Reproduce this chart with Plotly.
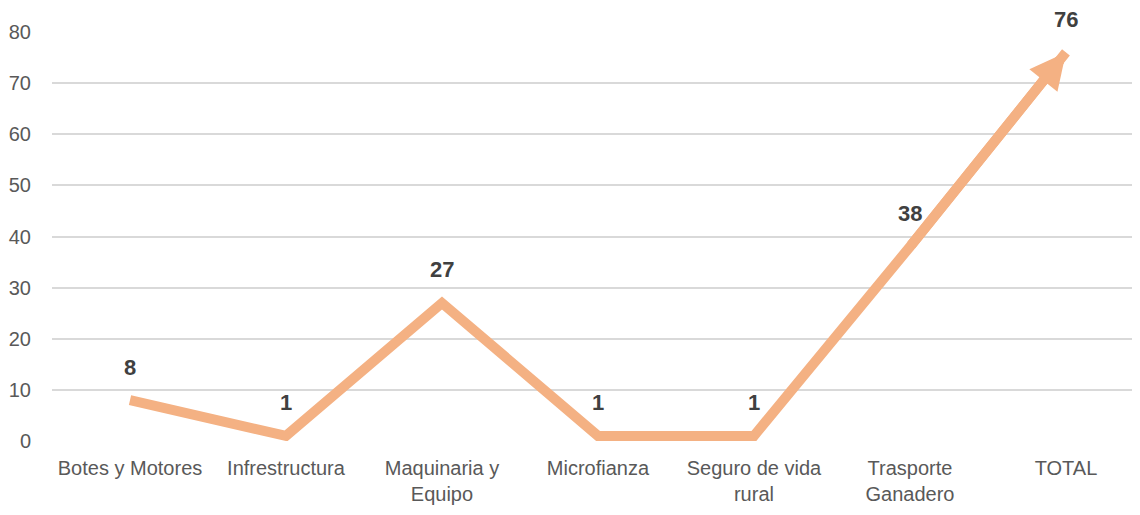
import plotly.graph_objects as go

categories = ["Botes y Motores", "Infrestructura", "Maquinaria y<br>Equipo", "Microfianza",
              "Seguro de vida<br>rural", "Trasporte<br>Ganadero", "TOTAL"]
values = [8, 1, 27, 1, 1, 38, 76]
y_ticks = [0, 10, 20, 30, 40, 50, 60, 70, 80]

LINE = "#F4B183"
FONT = "Liberation Sans, Arial, sans-serif"

fig = go.Figure()
fig.add_trace(go.Scatter(
    x=list(range(len(categories))), y=values, mode="lines",
    line=dict(color=LINE, width=10), cliponaxis=False, hoverinfo="skip",
))

# arrow head on the final segment
fig.add_annotation(
    x=len(categories) - 1, y=values[-1], ax=len(categories) - 2, ay=values[-2],
    xref="x", yref="y", axref="x", ayref="y", text="", showarrow=True,
    arrowhead=2, arrowwidth=10, arrowsize=0.72, arrowcolor=LINE,
)

for i, v in enumerate(values):
    fig.add_annotation(
        x=i, y=v, text=f"<b>{v}</b>", showarrow=False, yshift=33,
        font=dict(family=FONT, size=22, color="#404040"),
    )

fig.update_layout(
    width=1140, height=515,
    margin=dict(l=44, r=0, t=24, b=82, autoexpand=False),
    paper_bgcolor="white", plot_bgcolor="white",
    showlegend=False,
    font=dict(family=FONT, size=20, color="#595959"),
)
fig.update_xaxes(
    range=[-0.5, 6.526], tickmode="array",
    tickvals=list(range(len(categories))), ticktext=categories,
    showgrid=False, zeroline=False, showline=False, ticks="",
    tickangle=0, automargin=False, ticklabelstandoff=13,
    tickfont=dict(family=FONT, size=20, color="#595959"),
)
fig.update_yaxes(
    range=[0, 80], tickvals=y_ticks, showgrid=True, gridcolor="#D9D9D9",
    gridwidth=1.5, zeroline=False, showline=False, ticks="",
    automargin=False, ticklabelstandoff=20,
    tickfont=dict(family=FONT, size=20, color="#595959"),
)

fig.write_html("out.html")
